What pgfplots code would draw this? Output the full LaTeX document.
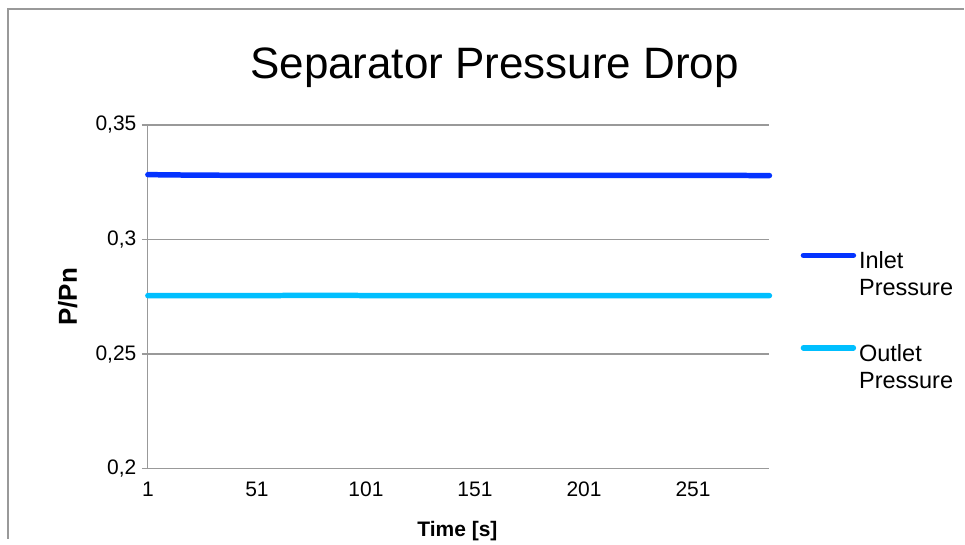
\documentclass[border=0pt]{standalone}
\usepackage{pgfplots}
\pgfplotsset{compat=1.18}
\usepackage{fontspec}
\setmainfont{Liberation Sans}
\definecolor{inlet}{HTML}{0433FF}
\definecolor{outlet}{HTML}{00BFFF}
\definecolor{gridgray}{HTML}{999999}
\begin{document}
\begin{tikzpicture}[x=1pt,y=1pt]
\path (0,0) rectangle (965,539);
\draw[gridgray, line width=1.5pt] (8,0) -- (8,530) -- (965,530);
\node[font=\fontsize{44}{50}\selectfont] at (495,471) {Separator Pressure Drop};
\begin{axis}[
  at={(148pt,70pt)}, anchor=origin,
  scale only axis, width=622pt, height=344pt,
  xmin=1, xmax=286, ymin=0.2, ymax=0.35,
  xtick={1,51,101,151,201,251},
  ytick={0.2,0.25,0.3,0.35},
  axis x line*=bottom, axis y line*=left,
  axis line style={gridgray, line width=1.2pt},
  ymajorgrids, grid style={gridgray, line width=1.2pt},
  x axis line style={-}, y axis line style={-},
  xtick style={draw=none},
  ytick style={gridgray, line width=1.2pt},
  tick align=outside, major tick length=6pt,
  /pgf/number format/assume math mode=true,
  /pgf/number format/use comma,
  tick label style={font=\fontsize{21}{24}\selectfont},
  yticklabel style={xshift=-2pt},
  xticklabel style={yshift=-4pt},
  xlabel={\textbf{Time [s]}}, ylabel={\textbf{P/Pn}},
  xlabel style={font=\fontsize{21}{24}\selectfont, at={(axis description cs:0.498,-0.183)}, anchor=center},
  ylabel style={font=\fontsize{26}{28}\selectfont, at={(axis description cs:-0.129,0.5)}, anchor=center},
  legend style={draw=none, fill=none, at={(axis description cs:1.05,0.635)}, anchor=north west,
    font=\fontsize{23.5}{27}\selectfont, row sep=45pt, inner sep=0pt,
    nodes={inner sep=1pt, align=left}},
  legend cell align=left,
  legend image code/.code={\draw[#1, line cap=round] (0pt,19pt) -- (50pt,19pt);},
  clip=false,
]
\addplot[inlet, line width=5.5pt, line cap=round] coordinates {
(1,0.3283) (10,0.3282) (20,0.3281) (40,0.3280) (80,0.3280) (120,0.3280)
(160,0.3280) (200,0.3280) (240,0.3280) (286,0.3279)};
\addlegendentry{\hspace{2pt}Inlet\\\hspace{2pt}Pressure}
\addplot[outlet, line width=5.5pt, line cap=round] coordinates {
(1,0.2755) (20,0.2755) (40,0.2755) (80,0.2756) (120,0.2755) (160,0.2755)
(200,0.2755) (240,0.2755) (286,0.2755)};
\addlegendentry{\hspace{2pt}Outlet\\\hspace{2pt}Pressure}
\end{axis}
\end{tikzpicture}
\end{document}
